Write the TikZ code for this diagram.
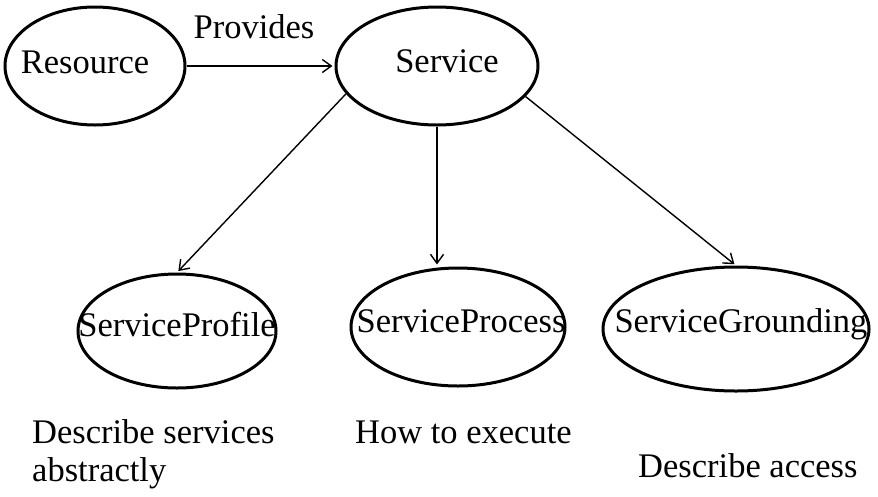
\documentclass[tikz,border=0pt]{standalone}
\usepackage{fontspec}
\setmainfont{Liberation Serif}
\usetikzlibrary{shapes.geometric,arrows.meta}

\begin{document}
\begin{tikzpicture}[x=1pt,y=-1pt,
  every node/.style={font=\fontsize{34.5}{37}\selectfont},
  entity/.style={draw, ellipse, line width=3pt, inner sep=0pt},
  caption/.style={inner sep=0pt, anchor=base},
  note/.style={inner sep=0pt, anchor=base west},
  link/.style={line width=1.4pt, shorten >=2pt,
    -{Straight Barb[length=9pt,width=13pt,line width=1.4pt]}}]
\useasboundingbox (0,0) rectangle (878,496);

% ellipses
\node[entity, minimum width=180pt, minimum height=118pt] (resource) at (95,66) {};
\node[entity, minimum width=202pt, minimum height=118pt] (service) at (437,66) {};
\node[entity, minimum width=198pt, minimum height=114pt] (profile) at (177,331) {};
\node[entity, minimum width=214pt, minimum height=118pt] (process) at (458,327) {};
\node[entity, minimum width=266pt, minimum height=124pt] (grounding) at (736,329) {};

% names inside the ellipses
\node[caption] (resourcetext) at (85,73) {Resource};
\node[caption] (servicetext) at (447,72) {Service};
\node[caption] (profiletext) at (177,336) {ServiceProfile};
\node[caption] (processtext) at (461,332) {ServiceProcess};
\node[caption] (groundingtext) at (741,332) {ServiceGrounding};

% relation label
\node[caption] (providestext) at (254,38) {Provides};

% notes under the lower ellipses
\node[note] (profilenote) at (32,443) {Describe services};
\node[note] (profilenote2) at (32,481) {abstractly};
\node[note] (processnote) at (355,443) {How to execute};
\node[note] (groundingnote) at (638,477) {Describe access};

% connectors
\draw[link] (resource) -- (service);
\draw[link] (service.197) -- (profile.north);
\draw[link] (service.south) -- (service.south |- process.north);
\draw[link] (service.-19) -- (grounding.north);
\end{tikzpicture}
\end{document}
